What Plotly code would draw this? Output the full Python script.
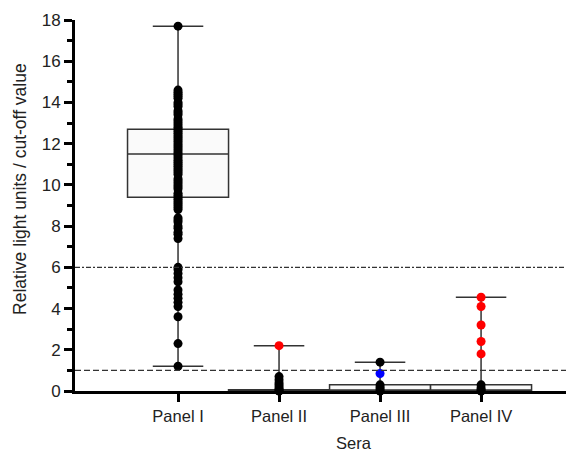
import plotly.graph_objects as go

categories = ["Panel I", "Panel II", "Panel III", "Panel IV"]

# box statistics per panel
q1 = [9.4, 0.0, 0.0, 0.0]
median = [11.5, 0.0, 0.02, 0.02]
q3 = [12.7, 0.06, 0.3, 0.3]
lowerfence = [1.2, 0.0, 0.0, 0.0]
upperfence = [17.7, 2.2, 1.4, 4.55]

# individual sera values
panel1_black = [17.7, 14.6, 14.5, 14.4, 14.3, 14.2, 14.0, 13.9, 13.8, 13.6, 13.5, 13.4,
                13.2, 13.1, 13.0, 12.9, 12.8, 12.7, 12.6, 12.5, 12.4, 12.3, 12.2, 12.1,
                12.0, 11.9, 11.8, 11.7, 11.6, 11.5, 11.4, 11.3, 11.2, 11.1, 11.0, 10.9,
                10.8, 10.7, 10.6, 10.5, 10.3, 10.2, 10.1, 10.0, 9.9, 9.8, 9.6, 9.5, 9.4,
                9.3, 9.2, 9.1, 9.0, 8.9, 8.8, 8.4, 8.3, 8.2, 8.0, 7.9, 7.7, 7.6, 7.4,
                6.0, 5.9, 5.7, 5.5, 5.3, 4.9, 4.7, 4.5, 4.3, 4.1, 3.6, 2.3, 1.2]
panel2_black = [0.7, 0.55, 0.4, 0.3, 0.2, 0.1, 0.05, 0.0]
panel2_red = [2.2]
panel3_black = [1.4, 0.3, 0.2, 0.1, 0.0]
panel3_blue = [0.85]
panel4_black = [0.3, 0.15, 0.05, 0.0]
panel4_red = [4.55, 4.1, 3.2, 2.4, 1.8]

cutoff_low = 1
cutoff_high = 6

x_title = "Sera"
y_title = "Relative light units / cut-off value"

FONT = "Liberation Sans, Arial, sans-serif"

fig = go.Figure()

for i in range(len(categories)):
    fig.add_trace(go.Box(
        x=[i], q1=[q1[i]], median=[median[i]], q3=[q3[i]],
        lowerfence=[lowerfence[i]], upperfence=[upperfence[i]],
        width=1, whiskerwidth=0.5,
        fillcolor="#fafafa",
        line=dict(color="#333333", width=1.5),
        boxpoints=False, showlegend=False, hoverinfo="skip",
    ))

def pts(i, vals, color):
    fig.add_trace(go.Scatter(
        x=[i] * len(vals), y=vals, mode="markers",
        marker=dict(color=color, size=9),
        cliponaxis=False, showlegend=False,
    ))

pts(0, panel1_black, "black")
pts(1, panel2_black, "black")
pts(1, panel2_red, "#ff0000")
pts(2, panel3_black, "black")
pts(2, panel3_blue, "#0000ff")
pts(3, panel4_black, "black")
pts(3, panel4_red, "#ff0000")

fig.add_shape(type="line", xref="paper", x0=0, x1=1, yref="y", y0=cutoff_low, y1=cutoff_low,
              line=dict(color="#333333", width=1.2, dash="6px,3px"))
fig.add_shape(type="line", xref="paper", x0=0, x1=1, yref="y", y0=cutoff_high, y1=cutoff_high,
              line=dict(color="#333333", width=1.2, dash="5px,2px,2px,2px"))

fig.add_annotation(text=x_title, xref="paper", yref="paper", x=0.56, y=-0.14,
                   yanchor="middle", xanchor="center", showarrow=False,
                   font=dict(size=16.5, color="#222222"))
fig.add_annotation(text=y_title, xref="paper", yref="paper", x=-0.11, y=0.545,
                   xanchor="center", yanchor="middle", textangle=-90, showarrow=False,
                   font=dict(size=17.5, color="#222222"))

# page body has an 8px margin, so the figure is sized/placed to compensate
fig.update_layout(
    width=566, height=444,
    margin=dict(l=67, r=0, t=12, b=61, autoexpand=False),
    plot_bgcolor="white", paper_bgcolor="white",
    font=dict(family=FONT, size=16.5, color="#222222"),
    showlegend=False,
    xaxis=dict(
        range=[-1.02, 3.92], tickmode="array", tickvals=[0, 1, 2, 3], ticktext=categories,
        showgrid=False, zeroline=False, showline=True, linewidth=3, linecolor="black",
        ticks="outside", ticklen=8, tickwidth=2.5, tickcolor="black",
        automargin=False, tickfont=dict(size=16.5),
    ),
    yaxis=dict(
        range=[0, 18], tickmode="array", tickvals=list(range(0, 19, 2)),
        showgrid=False, zeroline=False, showline=True, linewidth=3, linecolor="black",
        ticks="outside", ticklen=8, tickwidth=2.5, tickcolor="black",
        minor=dict(tickvals=list(range(1, 18, 2)), ticks="outside", ticklen=5, tickwidth=2.5,
                   tickcolor="black"),
        automargin=False, tickfont=dict(size=17),
    ),
)

fig.write_html("out.html")
